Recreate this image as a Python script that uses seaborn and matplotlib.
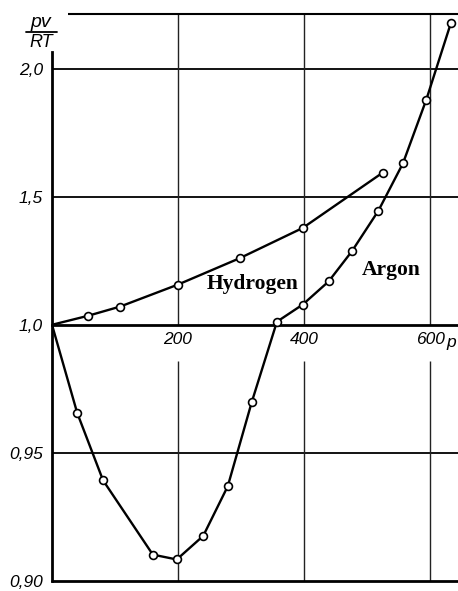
import numpy as np
import pandas as pd
import matplotlib
matplotlib.use("Agg")
import matplotlib.pyplot as plt
import seaborn as sns
from matplotlib.lines import Line2D

# ---- data ----
hydrogen_p = [0, 57, 108, 200, 298, 398, 525]
hydrogen_pv = [1.0, 1.035, 1.071, 1.157, 1.26, 1.378, 1.594]

argon_p = [0, 40, 81, 160, 198, 240, 279, 317, 357, 398, 439, 476, 518, 557, 594, 633]
argon_pv = [1.0, 0.9656, 0.9393, 0.9103, 0.9084, 0.9176, 0.937, 0.9698, 1.012,
            1.079, 1.169, 1.287, 1.445, 1.63, 1.878, 2.177]

x_ticks = [200, 400, 600]
x_tick_labels = ["200", "400", "600"]
y_ticks = [0.90, 0.95, 1.0, 1.5, 2.0]
y_tick_labels = ["0,90", "0,95", "1,0", "1,5", "2,0"]

sns.set_style("white")
plt.rcParams['font.family'] = ['Liberation Sans', 'DejaVu Sans']
plt.rcParams['text.color'] = 'black'
plt.rcParams['xtick.color'] = 'black'
plt.rcParams['ytick.color'] = 'black'
plt.rcParams['xtick.labelcolor'] = 'black'
plt.rcParams['ytick.labelcolor'] = 'black'

W, H = 458, 591
fig = plt.figure(figsize=(W / 100, H / 100), dpi=100)
ax = fig.add_axes([52 / W, 10 / H, 406 / W, 567 / H])

def fwd(y):
    y = np.asarray(y, dtype=float)
    return np.where(y >= 1.0, y - 1.0, 10.0 * (y - 1.0))

def inv(t):
    t = np.asarray(t, dtype=float)
    return np.where(t >= 0.0, t + 1.0, 1.0 + t / 10.0)

ax.set_yscale('function', functions=(fwd, inv))
XMAX = 644.4
YTOP = 2.213
ax.set_xlim(0, XMAX)
ax.set_ylim(0.90, YTOP)

hyd = pd.DataFrame({"p": hydrogen_p, "pv": hydrogen_pv})
arg = pd.DataFrame({"p": argon_p, "pv": argon_pv})

line_kw = dict(color="black", linewidth=1.7, sort=False, estimator=None, zorder=3)
sns.lineplot(data=hyd, x="p", y="pv", ax=ax, **line_kw)
sns.lineplot(data=arg, x="p", y="pv", ax=ax, **line_kw)

mk_kw = dict(marker="o", s=32, facecolor="white", edgecolor="black", linewidth=1.2, zorder=4)
sns.scatterplot(data=hyd.iloc[1:], x="p", y="pv", ax=ax, **mk_kw)
sns.scatterplot(data=arg.iloc[1:], x="p", y="pv", ax=ax, **mk_kw)

ax.set_xlabel("")
ax.set_ylabel("")

# grid-like lines
for yv in [0.95, 1.5, 2.0]:
    ax.axhline(yv, color="black", linewidth=1.3, zorder=1)
ax.vlines(x_ticks, 0.90, 0.986, color="#222222", linewidth=1.0, zorder=1)
ax.vlines(x_ticks, 1.0, YTOP, color="#222222", linewidth=1.0, zorder=1)
ax.hlines(YTOP, 25.4, XMAX, color="black", linewidth=1.5, clip_on=False, zorder=1)
ax.axhline(0.90, color="black", linewidth=2.0, clip_on=False, zorder=2)

# spines
for s in ["top", "right"]:
    ax.spines[s].set_visible(False)
ax.spines["left"].set_bounds(0.90, 2.063)
ax.spines["left"].set_linewidth(2.0)
ax.spines["left"].set_color("black")
ax.spines["bottom"].set_position(("data", 1.0))
ax.spines["bottom"].set_linewidth(2.0)
ax.spines["bottom"].set_color("black")

tick_font = dict(family=['Liberation Sans', 'DejaVu Sans'], style="italic", size=12.5)
ax.set_xticks(x_ticks)
ax.set_xticklabels(x_tick_labels, **tick_font)
ax.set_yticks(y_ticks)
ax.set_yticklabels(y_tick_labels, **tick_font)
ax.yaxis.set_minor_locator(matplotlib.ticker.NullLocator())
ax.tick_params(axis="both", length=0)
ax.tick_params(axis="y", pad=6.5)
ax.tick_params(axis="x", pad=5)

# curve labels
serif = dict(family=['Liberation Serif', 'DejaVu Serif'], weight="bold", size=15.5)
ax.text(246, 1.138, "Hydrogen", ha="left", va="baseline", **serif)
ax.text(492, 1.193, "Argon", ha="left", va="baseline", **serif)

# axis symbol p (kept fully inside the figure)
ax.text(626, 0.9931, "p", ha="left", va="center", clip_on=False, **tick_font)

# pv / RT label
fig.text(41 / W, 1 - 27 / H, "pv", ha="center", va="baseline",
         family=['Liberation Sans', 'DejaVu Sans'], style="italic", size=14)
fig.text(41 / W, 1 - 47 / H, "RT", ha="center", va="baseline",
         family=['Liberation Sans', 'DejaVu Sans'], style="italic", size=13)
fig.add_artist(Line2D([26 / W, 57 / W], [1 - 32 / H, 1 - 32 / H],
                      transform=fig.transFigure, color="black", linewidth=1.3))

fig.savefig("out.png", dpi=100)
